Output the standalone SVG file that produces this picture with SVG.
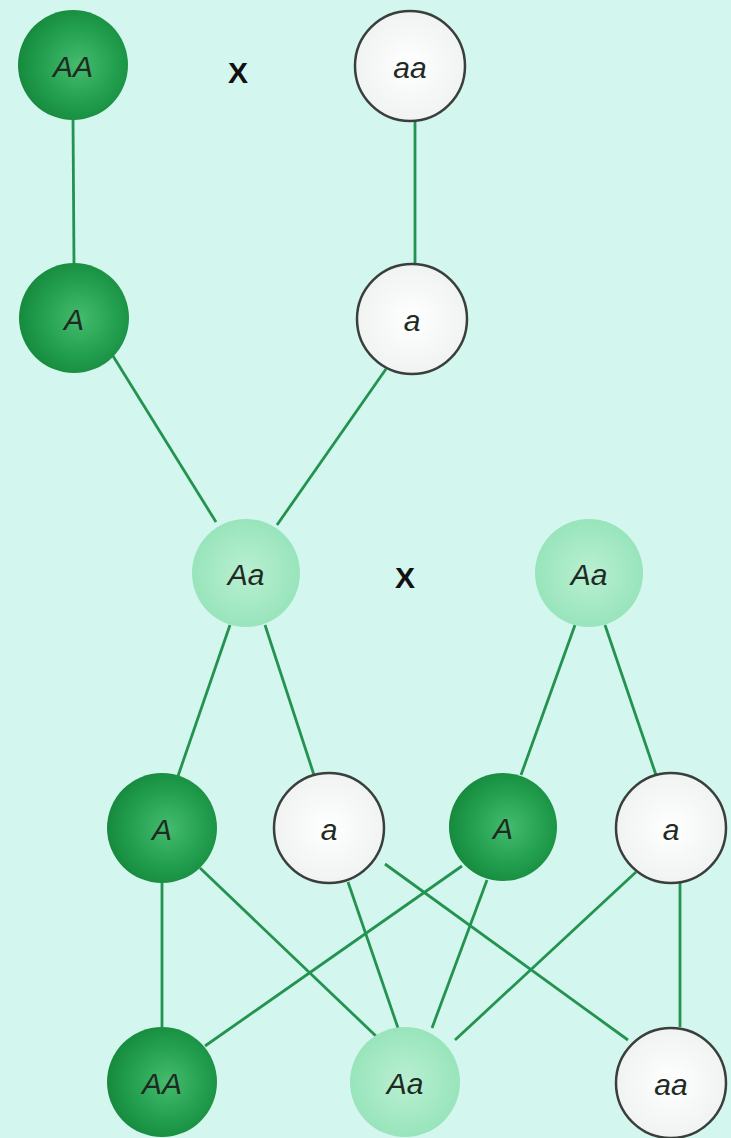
<svg xmlns="http://www.w3.org/2000/svg" width="731" height="1138" viewBox="0 0 731 1138">
<defs>
<radialGradient id="gDark" cx="0.55" cy="0.5" r="0.55">
<stop offset="0" stop-color="#45bb6e"/>
<stop offset="0.6" stop-color="#23a04f"/>
<stop offset="1" stop-color="#168a3e"/>
</radialGradient>
<radialGradient id="gLight" cx="0.5" cy="0.5" r="0.55">
<stop offset="0" stop-color="#b9f0d2"/>
<stop offset="1" stop-color="#95e3b9"/>
</radialGradient>
<radialGradient id="gWhite" cx="0.5" cy="0.5" r="0.55">
<stop offset="0" stop-color="#ffffff"/>
<stop offset="1" stop-color="#eef2f0"/>
</radialGradient>
</defs>
<style>
.dark{fill:url(#gDark);}
.light{fill:url(#gLight);}
.white{fill:url(#gWhite);stroke:#3a3f3c;stroke-width:2.5;}
.lbl{font-family:"Liberation Sans",Arial,sans-serif;font-style:italic;font-size:30px;fill:#1e2a22;text-anchor:middle;dominant-baseline:central;}
.x{font-family:"Liberation Sans",Arial,sans-serif;font-weight:bold;font-size:30px;fill:#111;text-anchor:middle;dominant-baseline:central;}
.conn line{stroke:#23934f;stroke-width:2.8;}
</style>
<rect width="731" height="1138" fill="#d3f6ee"/>
<g id="connectors" class="conn">
<line x1="73" y1="118" x2="74" y2="264"/>
<line x1="415" y1="122" x2="415" y2="264"/>
<line x1="113" y1="356" x2="216" y2="522"/>
<line x1="386" y1="369" x2="277" y2="525"/>
<line x1="230" y1="625" x2="178" y2="776"/>
<line x1="265" y1="625" x2="314" y2="775"/>
<line x1="575" y1="625" x2="521" y2="775"/>
<line x1="605" y1="625" x2="656" y2="775"/>
<line x1="162" y1="883" x2="162" y2="1027"/>
<line x1="200" y1="868" x2="378" y2="1038"/>
<line x1="348" y1="882" x2="398" y2="1028"/>
<line x1="385" y1="864" x2="628" y2="1040"/>
<line x1="462" y1="866" x2="205" y2="1046"/>
<line x1="487" y1="880" x2="432" y2="1028"/>
<line x1="636" y1="872" x2="455" y2="1040"/>
<line x1="680" y1="883" x2="680" y2="1027"/>
</g>
<g id="n-AA-top"><circle cx="73" cy="65" r="55" class="dark"/><text x="73" y="66" class="lbl">AA</text></g>
<g id="x-top"><text x="238" y="72" class="x">X</text></g>
<g id="n-aa-top"><circle cx="410" cy="66" r="55" class="white"/><text x="410" y="67" class="lbl">aa</text></g>
<g id="n-A-g1"><circle cx="74" cy="318" r="55" class="dark"/><text x="74" y="319" class="lbl">A</text></g>
<g id="n-a-g1"><circle cx="412" cy="319" r="55" class="white"/><text x="412" y="320" class="lbl">a</text></g>
<g id="n-Aa-left"><circle cx="246" cy="573" r="54" class="light"/><text x="246" y="574" class="lbl">Aa</text></g>
<g id="x-mid"><text x="405" y="577" class="x">X</text></g>
<g id="n-Aa-right"><circle cx="589" cy="573" r="54" class="light"/><text x="589" y="574" class="lbl">Aa</text></g>
<g id="n-A-g2a"><circle cx="162" cy="828" r="55" class="dark"/><text x="162" y="829" class="lbl">A</text></g>
<g id="n-a-g2a"><circle cx="329" cy="828" r="55" class="white"/><text x="329" y="829" class="lbl">a</text></g>
<g id="n-A-g2b"><circle cx="503" cy="827" r="54" class="dark"/><text x="503" y="828" class="lbl">A</text></g>
<g id="n-a-g2b"><circle cx="671" cy="828" r="55" class="white"/><text x="671" y="829" class="lbl">a</text></g>
<g id="n-AA-bot"><circle cx="162" cy="1082" r="55" class="dark"/><text x="162" y="1083" class="lbl">AA</text></g>
<g id="n-Aa-bot"><circle cx="405" cy="1082" r="55" class="light"/><text x="405" y="1083" class="lbl">Aa</text></g>
<g id="n-aa-bot"><circle cx="671" cy="1083" r="55" class="white"/><text x="671" y="1084" class="lbl">aa</text></g>
</svg>
